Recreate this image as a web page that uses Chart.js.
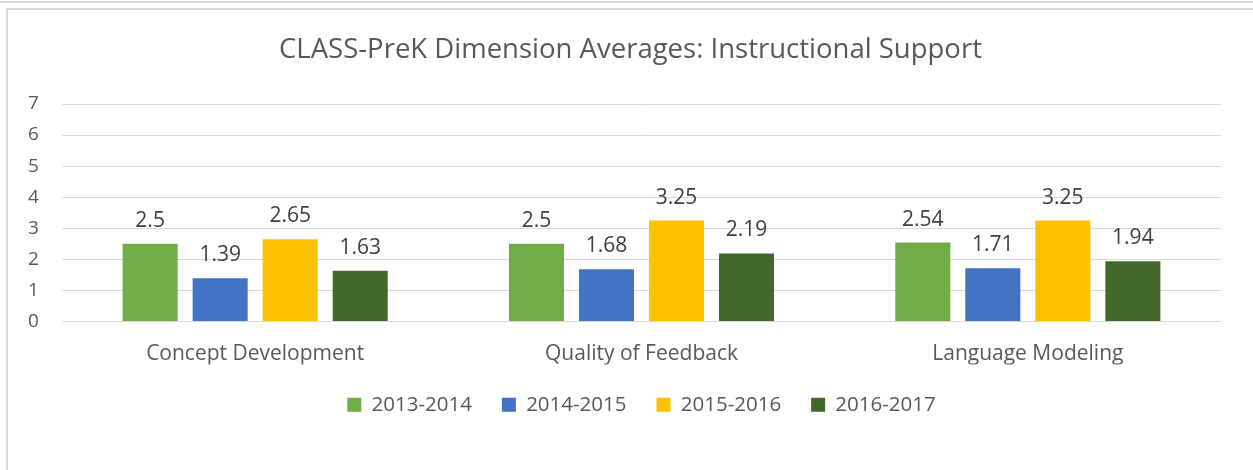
<!DOCTYPE html>
<html>
<head>
<meta charset="utf-8">
<script src="https://cdn.jsdelivr.net/npm/chart.js@4"></script>
<style>
  html, body { margin: 0; padding: 0; background: #fff; overflow: hidden; }
  .topline { position: absolute; left: 0; top: 1px; width: 1253px; height: 2px; background: #dadada; }
  .frame { position: absolute; left: 6px; top: 8px; width: 1400px; height: 600px;
           border-left: 2px solid #dadada; border-top: 2px solid #dadada; }
  .wrap { position: absolute; left: 0; top: 0; width: 1253px; height: 470px; }
</style>
</head>
<body>
<div class="topline"></div>
<div class="frame"></div>
<div class="wrap"><canvas id="chart" width="1253" height="470"></canvas></div>
<script>
const categories = ['Concept Development', 'Quality of Feedback', 'Language Modeling'];
const seriesNames = ['2013-2014', '2014-2015', '2015-2016', '2016-2017'];
const values2013 = [2.5, 2.5, 2.54];
const values2014 = [1.39, 1.68, 1.71];
const values2015 = [2.65, 3.25, 3.25];
const values2016 = [1.63, 2.19, 1.94];
const colors = ['#70ad47', '#4472c4', '#ffc000', '#43682b'];

const fontFamily = '"Open Sans", sans-serif';

// value above each bar
const valueLabels = {
  id: 'valueLabels',
  afterDatasetsDraw (chart) {
    const { ctx } = chart;
    ctx.save();
    ctx.font = '21px ' + fontFamily;
    ctx.fillStyle = '#404040';
    ctx.textAlign = 'center';
    ctx.textBaseline = 'alphabetic';
    chart.data.datasets.forEach((ds, i) => {
      chart.getDatasetMeta(i).data.forEach((bar, j) => {
        ctx.fillText(String(ds.data[j]), bar.x, bar.y - 17);
      });
    });
    ctx.restore();
  }
};

const allSeries = [values2013, values2014, values2015, values2016];

new Chart(document.getElementById('chart'), {
  type: 'bar',
  data: {
    labels: categories,
    datasets: allSeries.map((vals, i) => ({
      label: seriesNames[i],
      data: vals,
      backgroundColor: colors[i],
      borderWidth: 0,
      barPercentage: 0.786,
      categoryPercentage: 0.725
    }))
  },
  options: {
    responsive: false,
    animation: false,
    devicePixelRatio: 1,
    layout: { padding: { left: 40, right: 32, top: 26, bottom: 45 } },
    plugins: {
      title: {
        display: true,
        text: 'CLASS-PreK Dimension Averages: Instructional Support',
        color: '#595959',
        font: { family: fontFamily, size: 27.5, weight: 'normal' },
        padding: { top: 8, bottom: 37 }
      },
      legend: {
        position: 'bottom',
        fullSize: false,
        labels: {
          color: '#595959',
          font: { family: fontFamily, size: 20.5 },
          boxWidth: 14,
          boxHeight: 14,
          padding: 30
        }
      },
      tooltip: { enabled: false }
    },
    scales: {
      x: {
        grid: { display: false },
        border: { display: false },
        afterFit (scale) { scale.height = 43; },
        ticks: { color: '#595959', font: { family: fontFamily, size: 21 }, padding: 12 }
      },
      y: {
        min: 0,
        max: 7,
        afterFit (scale) { scale.width = 22; },
        ticks: {
          stepSize: 1,
          color: '#595959',
          font: { family: fontFamily, size: 19 },
          mirror: true,
          padding: -34
        },
        grid: { color: '#d9d9d9', lineWidth: 1, drawTicks: false },
        border: { display: false }
      }
    }
  },
  plugins: [valueLabels]
});
</script>
</body>
</html>
